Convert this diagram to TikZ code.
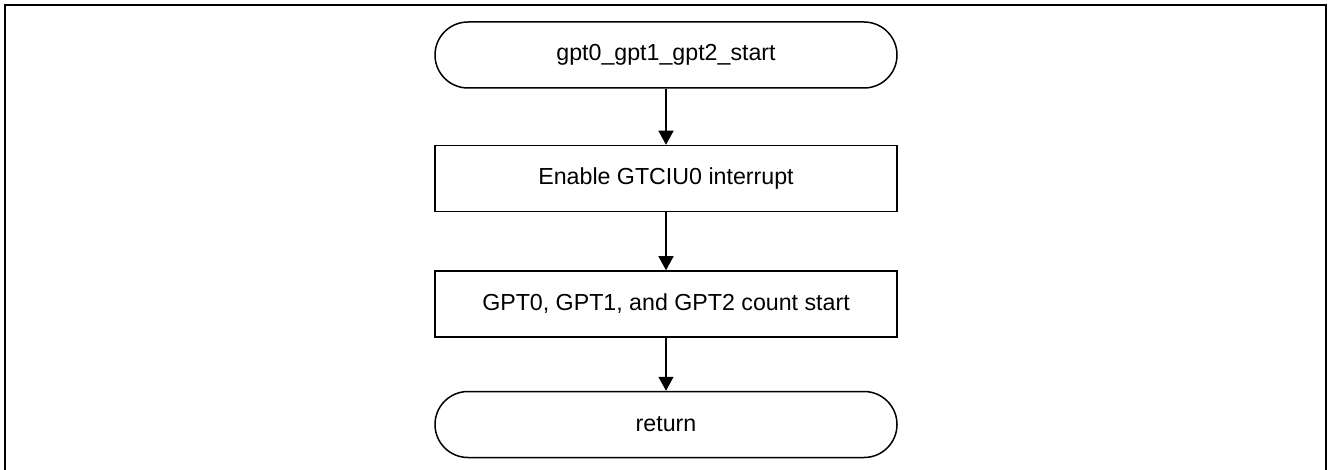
\documentclass[tikz,border=0pt]{standalone}
\usepackage{fontspec}
\setmainfont{Liberation Sans}
\usetikzlibrary{arrows.meta,positioning}

\begin{document}
\begin{tikzpicture}[font=\fontsize{11.6}{14}\selectfont,>={Triangle[length=7pt,width=7.5pt]},
  terminal/.style={draw,line width=0.75pt,rounded corners=16.5pt,minimum width=231pt,minimum height=33pt,inner sep=0pt},
  process/.style={draw,line width=0.75pt,minimum width=231pt,minimum height=33pt,inner sep=0pt}]
  \useasboundingbox (0,0) rectangle (664pt,-235pt);
  \draw[line width=1.2pt] (2.6pt,-2.6pt) rectangle (663pt,-237pt);
  \node[terminal] (start) at (333pt,-27.5pt) {gpt0\_gpt1\_gpt2\_start};
  \node[process,below=28pt of start] (enable) {Enable GTCIU0 interrupt};
  \node[process,below=29pt of enable] (count) {GPT0, GPT1, and GPT2 count start};
  \node[terminal,below=26.5pt of count] (ret) {return};
  \draw[->,line width=0.75pt] (start) -- (enable);
  \draw[->,line width=0.75pt] (enable) -- (count);
  \draw[->,line width=0.75pt] (count) -- (ret);
\end{tikzpicture}
\end{document}
